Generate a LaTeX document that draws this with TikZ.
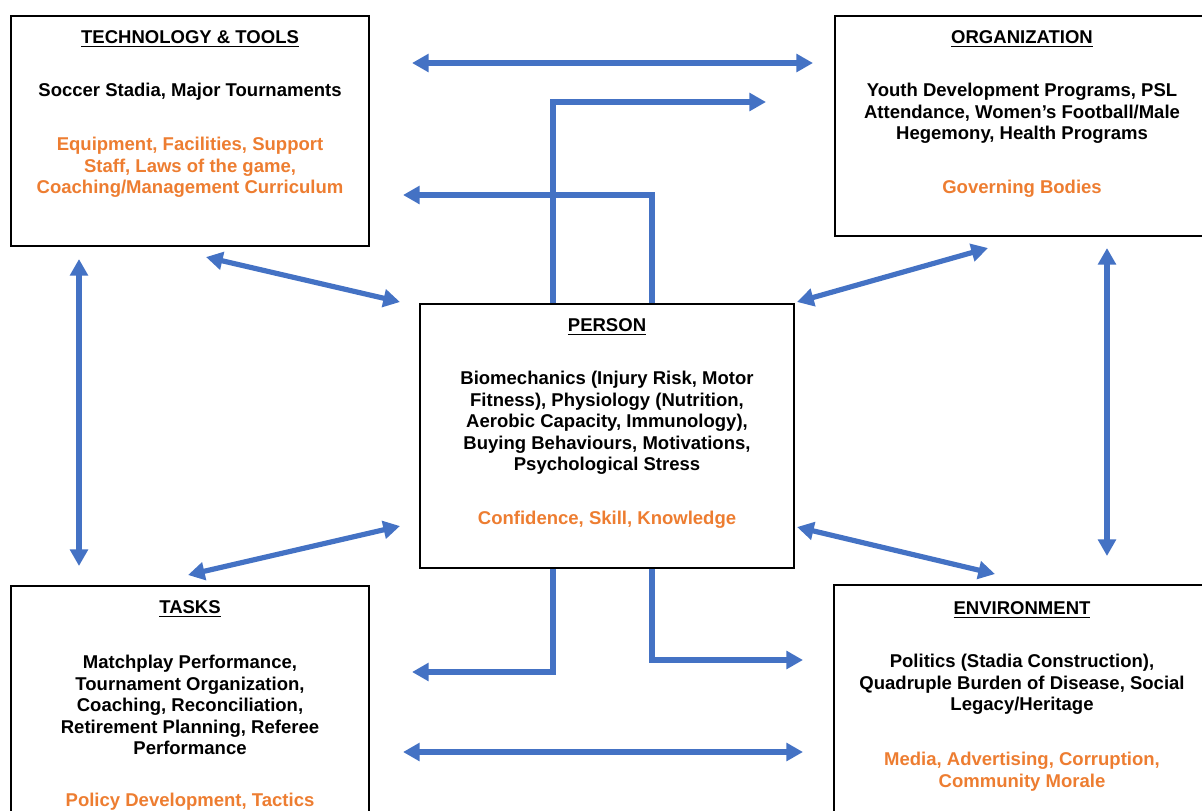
\documentclass[tikz,border=0pt]{standalone}
\usepackage{fontspec}
\setmainfont{Liberation Sans}
\usetikzlibrary{arrows.meta,calc}
\definecolor{linkblue}{HTML}{4472C4}
\definecolor{accent}{HTML}{ED7D31}

\begin{document}
\begin{tikzpicture}[x=0.54pt,y=-0.54pt,
  box/.style 2 args={draw=black,line width=1.1pt,anchor=north west,inner sep=0pt,
    minimum width=#1*0.54pt,minimum height=#2*0.54pt},
  txt/.style={font=\bfseries\fontsize{10}{11.6}\selectfont,align=center,anchor=north,inner sep=0pt},
  note/.style={txt,text=accent},
  tip/.tip={Triangle[length=9pt,width=9.5pt]},
  link/.style={draw=linkblue,line width=2.8pt,line join=miter,-tip},
  both/.style={draw=linkblue,line width=2.8pt,tip-tip}]

\useasboundingbox (0,0) rectangle (1202,811);
\clip (0,0) rectangle (1202,811);

% boxes
\node[box={358}{230}] (tech)   at (10,15)  {};
\node[box={374}{220}] (org)    at (834,15) {};
\node[box={374}{264}] (person) at (419,303) {};
\node[box={358}{250}] (tasks)  at (10,585) {};
\node[box={376}{250}] (env)    at (833,584) {};

% technology & tools
\node[txt] (techT) at ($(tech.north)+(0,15)$) {\underline{TECHNOLOGY \& TOOLS}};
\node[txt] (techB) at ($(tech.north)+(0,68)$) {Soccer Stadia, Major Tournaments};
\node[note] (techN) at ($(tech.north)+(0,122)$) {Equipment, Facilities, Support\\Staff, Laws of the game,\\Coaching/Management Curriculum};

% organization
\node[txt] (orgT) at ($(org.north)+(0,15)$) {\underline{ORGANIZATION}};
\node[txt] (orgB) at ($(org.north)+(0,68)$) {Youth Development Programs, PSL\\Attendance, Women’s Football/Male\\Hegemony, Health Programs};
\node[note] (orgN) at ($(org.north)+(0,165)$) {Governing Bodies};

% person
\node[txt] (perT) at ($(person.north)+(0,15)$) {\underline{PERSON}};
\node[txt] (perB) at ($(person.north)+(0,68)$) {Biomechanics (Injury Risk, Motor\\Fitness), Physiology (Nutrition,\\Aerobic Capacity, Immunology),\\Buying Behaviours, Motivations,\\Psychological Stress};
\node[note] (perN) at ($(person.north)+(0,208)$) {Confidence, Skill, Knowledge};

% tasks
\node[txt] (taskT) at ($(tasks.north)+(0,15)$) {\underline{TASKS}};
\node[txt] (taskB) at ($(tasks.north)+(0,70)$) {Matchplay Performance,\\Tournament Organization,\\Coaching, Reconciliation,\\Retirement Planning, Referee\\Performance};
\node[note] (taskN) at ($(tasks.north)+(0,208)$) {Policy Development, Tactics};

% environment
\node[txt] (envT) at ($(env.north)+(0,17)$) {\underline{ENVIRONMENT}};
\node[txt] (envB) at ($(env.north)+(0,70)$) {Politics (Stadia Construction),\\Quadruple Burden of Disease, Social\\Legacy/Heritage};
\node[note] (envN) at ($(env.north)+(0,168)$) {Media, Advertising, Corruption,\\Community Morale};

% connectors
\draw[both] ($(tech.north east)+(42,48)$) -- ($(org.north west)+(-21,48)$);
\draw[link] ($(person.north west)+(134,0)$) |- ($(org.north west)+(-68,87)$);
\draw[link] ($(person.north west)+(233,0)$) |- ($(tech.north east)+(33,180)$);
\draw[both] ($(tech.south west)+(196,10)$) -- ($(person.north west)+(-19,-1)$);
\draw[both] ($(person.north east)+(2,-1)$) -- ($(org.south west)+(154,11)$);
\draw[both] ($(tech.south west)+(69,12)$) -- ($(tasks.north west)+(69,-19)$);
\draw[both] ($(org.south west)+(273,11)$) -- ($(env.north west)+(274,-28)$);
\draw[both] ($(tasks.north west)+(178,-10)$) -- ($(person.south west)+(-19,-43)$);
\draw[both] ($(person.south east)+(2,-42)$) -- ($(env.north west)+(162,-10)$);
\draw[link] ($(person.south west)+(134,0)$) |- ($(tasks.north east)+(42,87)$);
\draw[link] ($(person.south west)+(233,0)$) |- ($(env.north west)+(-30,76)$);
\draw[both] ($(tasks.north east)+(33,167)$) -- ($(env.north west)+(-30,168)$);
\end{tikzpicture}
\end{document}
